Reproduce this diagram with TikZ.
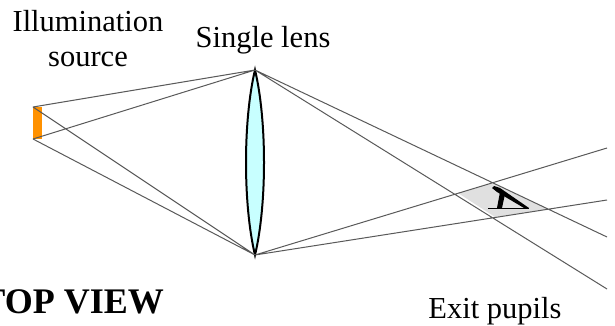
\documentclass[tikz,border=0pt]{standalone}
\usepackage{fontspec}
\setmainfont{Liberation Serif}
\begin{document}
\begin{tikzpicture}[x=1pt,y=-1pt,
  ray/.style={draw=black!65,line width=1pt},
  lbl/.style={inner sep=0pt,anchor=base,font=\fontsize{30.5}{35}\selectfont,align=center}]
\useasboundingbox (0,0) rectangle (615,326);
\coordinate (lt) at (255,70);
\coordinate (lb) at (255,255);
\coordinate (st) at (33,107);
\coordinate (sb) at (33,139);
\coordinate (e1) at (607,237);
\coordinate (e2) at (607,289);
\coordinate (e3) at (607,148);
\coordinate (e4) at (607,200);
\fill[black!12] (458,193) -- (493,183) -- (548,209) -- (495,217) -- cycle;
\draw[black,line width=2pt,fill={rgb,255:red,200;green,255;blue,255}] (lt) .. controls (243,120) and (243,205) .. (lb) .. controls (267,205) and (267,120) .. (lt) -- cycle;
\fill[fill={rgb,255:red,255;green,145;blue,0}] (33,107) rectangle (42,139);
\draw[ray] (st) -- (lt) (sb) -- (lt) (st) -- (lb) (sb) -- (lb);
\draw[ray] (lt) -- (e1) (lt) -- (e2) (lb) -- (e3) (lb) -- (e4);
\fill[black] (492,188) -- (494,186) -- (500,188) -- (529,208) -- (524,208) -- (497,192) -- cycle;
\fill[black] (500,192) -- (505,194) -- (502,208) -- (497,208) -- cycle;
\draw[black,line width=1.4pt] (488,208.5) -- (529,208.5);
\node[lbl] (a) at (88,32) {Illumination};
\node[lbl] (a2) at (88,67) {source};
\node[lbl] (b) at (263,48) {Single lens};
\node[lbl] (c) at (495,318) {Exit pupils};
\node[inner sep=0pt,anchor=base east,font=\fontsize{36}{40}\bfseries\selectfont] (d) at (164,313) {TOP VIEW};
\end{tikzpicture}
\end{document}
